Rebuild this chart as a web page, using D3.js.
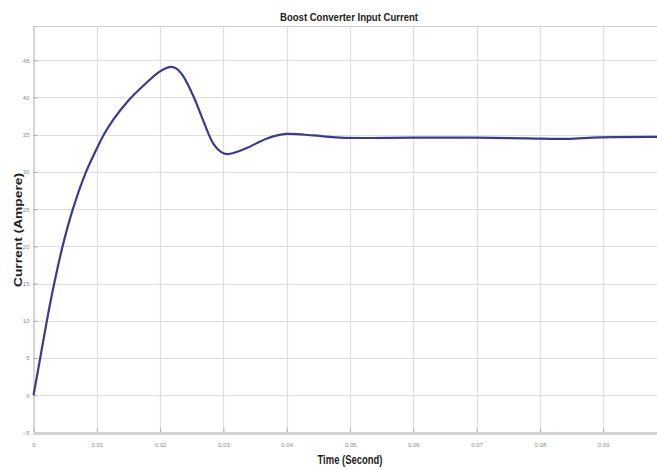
<!DOCTYPE html>
<html>
<head>
<meta charset="utf-8">
<script src="https://cdn.jsdelivr.net/npm/d3@7"></script>
<style>
  html, body { margin: 0; padding: 0; background: #fff; }
  svg { display: block; }
</style>
</head>
<body>
<svg id="chart" width="657" height="470"></svg>
<script>
// ---- data ----
const timeValues = [0, 0.00106, 0.00211, 0.00327, 0.00459, 0.00622, 0.0083, 0.0097, 0.0111, 0.0125, 0.0150, 0.0175, 0.0198, 0.0210, 0.0218, 0.0227, 0.0237, 0.0253, 0.0269, 0.0284, 0.0296, 0.0306, 0.0318, 0.0337, 0.0369, 0.0400, 0.0442, 0.0484, 0.06, 0.07, 0.078, 0.0843, 0.0895, 0.1];
const currentValues = [0, 5, 10, 15, 20, 25, 30, 32.6, 35, 36.9, 39.6, 41.7, 43.4, 43.95, 44.1, 43.8, 42.8, 40.1, 36.7, 33.8, 32.7, 32.4, 32.6, 33.2, 34.5, 35.1, 34.9, 34.6, 34.6, 34.6, 34.5, 34.45, 34.65, 34.7];
const xTicks = [0, 0.01, 0.02, 0.03, 0.04, 0.05, 0.06, 0.07, 0.08, 0.09];
const xTickLabels = ["0", "0.01", "0.02", "0.03", "0.04", "0.05", "0.06", "0.07", "0.08", "0.09"];
const yTicks = [-5, 0, 5, 10, 15, 20, 25, 30, 35, 40, 45];
const titleText = "Boost Converter Input Current";
const xLabelText = "Time (Second)";
const yLabelText = "Current (Ampere)";

// ---- layout ----
const W = 657, H = 470;
const plotLeft = 33.5, plotTop = 26, plotBottom = 432.5;
const svg = d3.select("#chart");
svg.append("rect").attr("width", W).attr("height", H).attr("fill", "#fff");

const x = d3.scaleLinear().domain([0, 0.1]).range([plotLeft, plotLeft + 633]);
const y = d3.scaleLinear().domain([-5, 49.6]).range([plotBottom, plotTop]);

// grid
const grid = svg.append("g");
grid.selectAll("line.v").data(xTicks.slice(1)).join("line")
  .attr("x1", d => Math.round(x(d)) + 0.5).attr("x2", d => Math.round(x(d)) + 0.5)
  .attr("y1", plotTop).attr("y2", plotBottom)
  .attr("stroke", "#dedede").attr("stroke-width", 1.2);
grid.selectAll("line.h").data(yTicks.slice(1)).join("line")
  .attr("x1", plotLeft).attr("x2", W)
  .attr("y1", d => Math.round(y(d)) + 0.5).attr("y2", d => Math.round(y(d)) + 0.5)
  .attr("stroke", "#dedede").attr("stroke-width", 1.2);

// frame top
svg.append("line").attr("x1", plotLeft).attr("x2", W).attr("y1", plotTop + 0.5).attr("y2", plotTop + 0.5)
  .attr("stroke", "#cfcfcf").attr("stroke-width", 1.2);

// axes
const yAxis = d3.axisLeft(y).tickValues(yTicks).tickSize(-4).tickPadding(4).tickFormat(d3.format("d"));
const gy = svg.append("g").attr("transform", `translate(${plotLeft},0)`).call(yAxis);
gy.select(".domain").attr("stroke", "#bbb").attr("stroke-width", 1.2);
gy.selectAll(".tick line").attr("stroke", "#aaa");
gy.selectAll(".tick text").attr("fill", "#8a8a8a").attr("font-size", 6).attr("font-family", "Liberation Sans, Arial, sans-serif");

const xAxis = d3.axisBottom(x).tickValues(xTicks).tickSize(-4).tickPadding(10).tickFormat((d, i) => xTickLabels[i]);
const gx = svg.append("g").attr("transform", `translate(0,${plotBottom})`).call(xAxis);
gx.select(".domain").remove();
gx.append("line").attr("x1", plotLeft).attr("x2", W).attr("y1", 1).attr("y2", 1)
  .attr("stroke", "#d2d2d2").attr("stroke-width", 3);
gx.selectAll(".tick line").attr("stroke", "#aaa");
gx.selectAll(".tick text").attr("fill", "#8a8a8a").attr("font-size", 6).attr("font-family", "Liberation Sans, Arial, sans-serif");

// curve
const line = d3.line()
  .x((d, i) => x(timeValues[i]))
  .y(d => y(d))
  .curve(d3.curveCatmullRom.alpha(0.5));
svg.append("path").datum(currentValues)
  .attr("d", line)
  .attr("fill", "none")
  .attr("stroke", "#3b3a8e")
  .attr("stroke-width", 2.2)
  .attr("stroke-linejoin", "round");

// labels
svg.append("text").text(titleText)
  .attr("x", 349).attr("y", 20.5).attr("text-anchor", "middle")
  .attr("font-family", "Liberation Sans, Arial, sans-serif").attr("font-weight", "bold")
  .attr("font-size", 11.5).attr("fill", "#222")
  .attr("textLength", 138).attr("lengthAdjust", "spacingAndGlyphs");

svg.append("text").text(xLabelText)
  .attr("x", 350).attr("y", 464).attr("text-anchor", "middle")
  .attr("font-family", "Liberation Sans, Arial, sans-serif").attr("font-weight", "bold")
  .attr("font-size", 13).attr("fill", "#222")
  .attr("textLength", 65).attr("lengthAdjust", "spacingAndGlyphs");

svg.append("text").text(yLabelText)
  .attr("transform", "translate(22,230) rotate(-90)")
  .attr("text-anchor", "middle")
  .attr("font-family", "Liberation Sans, Arial, sans-serif").attr("font-weight", "bold")
  .attr("font-size", 11.5).attr("fill", "#222")
  .attr("textLength", 114).attr("lengthAdjust", "spacingAndGlyphs");
</script>
</body>
</html>
